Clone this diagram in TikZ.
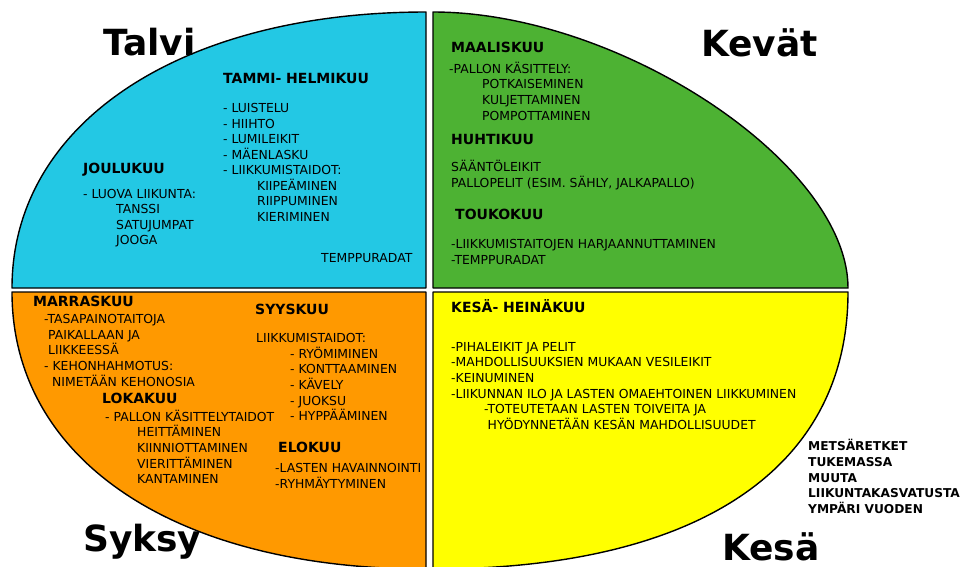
\documentclass[tikz,border=0pt]{standalone}
\usepackage{fontspec}
\setmainfont{DejaVu Sans}
\definecolor{talvicol}{RGB}{35,200,228}
\definecolor{kevatcol}{RGB}{77,178,51}
\definecolor{syksycol}{RGB}{255,153,0}
\definecolor{kesacol}{RGB}{255,255,0}
\tikzset{
  quad/.style={draw=black, line width=1.4pt, line join=round},
  txt/.style={anchor=base west, inner sep=0pt, font=\fontsize{12.4}{15}\selectfont},
  hd/.style={anchor=base west, inner sep=0pt, font=\fontsize{14}{16}\selectfont\bfseries},
  note/.style={anchor=base west, inner sep=0pt, font=\fontsize{12.2}{15}\selectfont\bfseries},
  season/.style={anchor=base west, inner sep=0pt, font=\fontsize{36}{40}\selectfont\bfseries},
}
\begin{document}
\begin{tikzpicture}[x=1pt,y=-1pt]
\useasboundingbox (0,0) rectangle (964,566);
\fill[white] (0,0) rectangle (964,566);
\begin{scope}
\clip (0,0) rectangle (964,566);
% quadrants
\path[quad, fill=talvicol] (426,288) -- (12,288) .. controls (12,123.8) and (179.7,12) .. (426,12) -- cycle;
\path[quad, fill=kevatcol] (433,288) -- (433,12) .. controls (619.8,12) and (848,163.8) .. (848,288) -- cycle;
\path[quad, fill=syksycol] (426,292) -- (12,292) .. controls (12,459) and (173.5,569) .. (426,569) -- cycle;
\path[quad, fill=kesacol] (433,292) -- (848,292) .. controls (848,468) and (698.6,569) .. (433,569) -- cycle;
\end{scope}

% season labels
\node[season] (talvi) at (103,55) {Talvi};
\node[season] (kevat) at (701,56) {Kevät};
\node[season] (syksy) at (83,551) {Syksy};
\node[season] (kesa) at (722,560) {Kesä};

% Talvi
\node[hd]  (tammi) at (223,83.6) {TAMMI- HELMIKUU};
\node[txt] (t1) at (223,112.5) {- LUISTELU};
\node[txt] (t2) at (223,128.1) {- HIIHTO};
\node[txt] (t3) at (223,143.7) {- LUMILEIKIT};
\node[txt] (t4) at (223,159.3) {- MÄENLASKU};
\node[txt] (t5) at (223,174.9) {- LIIKKUMISTAIDOT:};
\node[txt] (t6) at (257,190.0) {KIIPEÄMINEN};
\node[txt] (t7) at (257,205.6) {RIIPPUMINEN};
\node[txt] (t8) at (257,221.4) {KIERIMINEN};
\node[hd]  (joulu) at (83,173.1) {JOULUKUU};
\node[txt] (j1) at (83,198.5) {- LUOVA LIIKUNTA:};
\node[txt] (j2) at (116,213.5) {TANSSI};
\node[txt] (j3) at (116,229.3) {SATUJUMPAT};
\node[txt] (j4) at (116,244.8) {JOOGA};
\node[txt] (t9) at (321,262.5) {TEMPPURADAT};

% Kevät
\node[hd]  (maalis) at (451,52.1) {MAALISKUU};
\node[txt] (m1) at (449,73.5) {-PALLON KÄSITTELY:};
\node[txt] (m2) at (482,88.8) {POTKAISEMINEN};
\node[txt] (m3) at (482,104.6) {KULJETTAMINEN};
\node[txt] (m4) at (482,120.4) {POMPOTTAMINEN};
\node[hd]  (huhti) at (451,144.1) {HUHTIKUU};
\node[txt] (h1) at (451,171.5) {SÄÄNTÖLEIKIT};
\node[txt] (h2) at (451,187.5) {PALLOPELIT (ESIM. SÄHLY, JALKAPALLO)};
\node[hd]  (touko) at (455,219.1) {TOUKOKUU};
\node[txt] (k1) at (451,248.5) {-LIIKKUMISTAITOJEN HARJAANNUTTAMINEN};
\node[txt] (k2) at (451,264.3) {-TEMPPURADAT};

% Syksy
\node[hd]  (marras) at (33,306.1) {MARRASKUU};
\node[txt] (r1) at (44,323.5) {-TASAPAINOTAITOJA};
\node[txt] (r2) at (48,339.3) {PAIKALLAAN JA};
\node[txt] (r3) at (48,354.8) {LIIKKEESSÄ};
\node[txt] (r4) at (44,370.5) {- KEHONHAHMOTUS:};
\node[txt] (r5) at (52,386.3) {NIMETÄÄN KEHONOSIA};
\node[hd]  (loka) at (102,403.1) {LOKAKUU};
\node[txt] (l1) at (105,421.5) {- PALLON KÄSITTELYTAIDOT};
\node[txt] (l2) at (137,436.8) {HEITTÄMINEN};
\node[txt] (l3) at (137,452.5) {KIINNIOTTAMINEN};
\node[txt] (l4) at (137,468.2) {VIERITTÄMINEN};
\node[txt] (l5) at (137,483.8) {KANTAMINEN};
\node[hd]  (syys) at (255,314.1) {SYYSKUU};
\node[txt] (s1) at (256,342.5) {LIIKKUMISTAIDOT:};
\node[txt] (s2) at (290,358.2) {- RYÖMIMINEN};
\node[txt] (s3) at (290,373.8) {- KONTTAAMINEN};
\node[txt] (s4) at (290,389.4) {- KÄVELY};
\node[txt] (s5) at (290,405.0) {- JUOKSU};
\node[txt] (s6) at (290,420.6) {- HYPPÄÄMINEN};
\node[hd]  (elo) at (278,452.1) {ELOKUU};
\node[txt] (e1) at (275,472.5) {-LASTEN HAVAINNOINTI};
\node[txt] (e2) at (275,488.3) {-RYHMÄYTYMINEN};

% Kesä
\node[hd]  (kesahd) at (451,312.1) {KESÄ- HEINÄKUU};
\node[txt] (y1) at (451,351.3) {-PIHALEIKIT JA PELIT};
\node[txt] (y2) at (451,366.9) {-MAHDOLLISUUKSIEN MUKAAN VESILEIKIT};
\node[txt] (y3) at (451,382.5) {-KEINUMINEN};
\node[txt] (y4) at (451,398.1) {-LIIKUNNAN ILO JA LASTEN OMAEHTOINEN LIIKKUMINEN};
\node[txt] (y5) at (484,413.7) {-TOTEUTETAAN LASTEN TOIVEITA JA};
\node[txt] (y6) at (487.5,429.3) {HYÖDYNNETÄÄN KESÄN MAHDOLLISUUDET};

% outside note
\node[note] (o1) at (808,450.5) {METSÄRETKET};
\node[note] (o2) at (808,466.3) {TUKEMASSA};
\node[note] (o3) at (808,482.1) {MUUTA};
\node[note] (o4) at (808,497.9) {LIIKUNTAKASVATUSTA};
\node[note] (o5) at (808,513.7) {YMPÄRI VUODEN};
\end{tikzpicture}
\end{document}
